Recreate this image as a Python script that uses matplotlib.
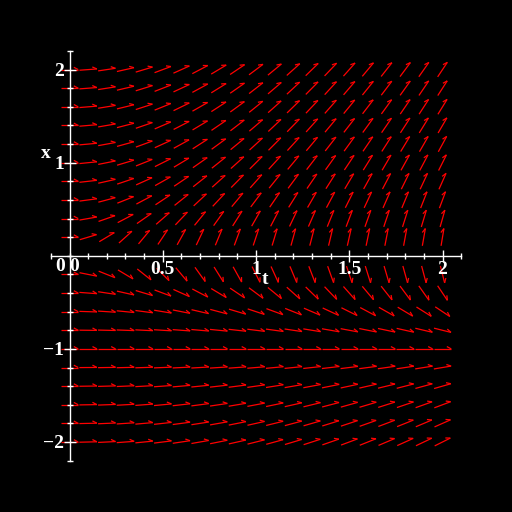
import numpy as np
import matplotlib
matplotlib.use('Agg')
import matplotlib.pyplot as plt
from matplotlib.collections import LineCollection

# grid of the direction field
t_values = np.linspace(0.0, 2.0, 21)
x_values = np.linspace(-2.0, 2.0, 21)

# ODE: dx/dt = t*(x+1)/x
def slope(t, x):
    return t * (x + 1.0) / x

xtick_pos = [0.5, 1.0, 1.5, 2.0]
xtick_lab = ['0.5', '1', '1.5', '2']
ytick_pos = [-2, -1, 1, 2]
ytick_lab = ['\u22122', '\u22121', '1', '2']

fig = plt.figure(figsize=(5.12, 5.12), dpi=100, facecolor='black')
ax = fig.add_axes([0, 0, 1, 1])
ax.set_facecolor('black')
ax.set_xlim(-69.5 / 186.5, (512 - 69.5) / 186.5)
ax.set_ylim(-(512 - 255.8) / 93.1, 255.8 / 93.1)

o = ax.transData.transform((0, 0))
sx = ax.transData.transform((1, 0))[0] - o[0]
sy = ax.transData.transform((0, 1))[1] - o[1]

L = 17.5
B = 5.0
ang = np.deg2rad(-28)
segs = []
for t in t_values:
    for x in x_values:
        if abs(x) < 1e-9:
            continue
        f = slope(t, x)
        dx, dy = sx, sy * f
        n = np.hypot(dx, dy)
        ux, uy = dx / n, dy / n
        tail = (t - ux * L / 2 / sx, x - uy * L / 2 / sy)
        tip = (t + ux * L / 2 / sx, x + uy * L / 2 / sy)
        bx = np.cos(ang) * (-ux) - np.sin(ang) * (-uy)
        by = np.sin(ang) * (-ux) + np.cos(ang) * (-uy)
        barb = (tip[0] + bx * B / sx, tip[1] + by * B / sy)
        segs.append([tail, tip])
        segs.append([tip, barb])

lc = LineCollection(segs, colors='#ff0000', linewidths=0.9, zorder=1,
                    antialiaseds=True)
ax.add_collection(lc)

for s in ['top', 'right']:
    ax.spines[s].set_visible(False)
ax.spines['left'].set_position(('data', 0))
ax.spines['bottom'].set_position(('data', 0))
ax.spines['left'].set_bounds(-2.2, 2.2)
ax.spines['bottom'].set_bounds(-0.1, 2.1)
for s in ['left', 'bottom']:
    ax.spines[s].set_color('white')
    ax.spines[s].set_linewidth(1.0)
    ax.spines[s].set_zorder(3)

font = dict(family='Liberation Serif', size=14, weight='bold', color='white')
ax.set_xticks(xtick_pos)
ax.set_xticklabels(xtick_lab, fontdict=font)
ax.set_xticks(np.linspace(-0.1, 2.1, 23), minor=True)
ax.set_yticks(ytick_pos)
ax.set_yticklabels(ytick_lab, fontdict=font)
ax.set_yticks(np.linspace(-2.2, 2.2, 23), minor=True)
ax.tick_params(which='both', colors='white', direction='inout', width=1.0)
ax.tick_params(which='major', length=8, pad=0)
ax.tick_params(which='minor', length=4)

ax.text(-0.022, -0.02, '0', ha='right', va='top', **font)
ax.text(0.027, -0.02, '0', ha='center', va='top', **font)
ax.text(1.05, -0.16, 't', ha='center', va='top', **font)
ax.text(-0.125, 1.1, 'x', ha='center', va='center', **font)

fig.savefig('out.png', dpi=100, facecolor='black')
